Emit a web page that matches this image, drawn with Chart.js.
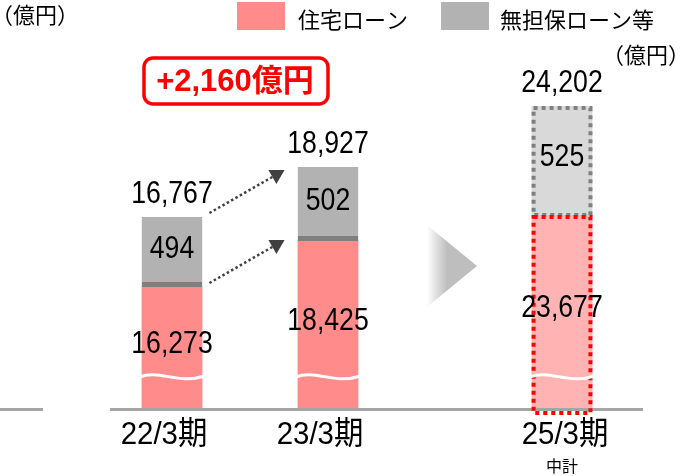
<!DOCTYPE html>
<html>
<head>
<meta charset="utf-8">
<script src="https://cdn.jsdelivr.net/npm/chart.js@4"></script>
<style>
  html, body { margin: 0; padding: 0; background: #fff; }
  #wrap { width: 680px; height: 476px; position: relative; }
</style>
</head>
<body>
<div id="wrap"><canvas id="myChart" width="680" height="476"></canvas></div>
<script>
// tick labels (blank slots keep the gap before the plan year)
const xLabels = ['22/3期', '', '23/3期', '', '', '25/3期']
const subLabels = ['', '', '', '', '', '中計']

// values (億円)
const housingLoan = [16273, null, 18425, null, null, 23677]
const unsecuredLoan = [494, null, 502, null, null, 525]
const totals = [16767, null, 18927, null, null, 24202]

// lengths on the broken (wavy) axis, as drawn in the source
const housingDrawn = [121, null, 167, null, null, 193]
const unsecuredDrawn = [70, null, 74, null, null, 109]

const legendNames = ['住宅ローン', '無担保ローン等']
const growthLabel = '+2,160億円'
const unitLabel = '（億円）'

const PINK = '#FF8B8B'
const PINK_PLAN = '#FFB3B3'
const GREY = '#B2B2B2'
const GREY_PLAN = '#D9D9D9'
const planIndex = 5

const NUM_FONT = '"Liberation Sans", "Noto Sans CJK JP", sans-serif'
const JP_FONT = '"Noto Sans CJK JP", sans-serif'

function fmt(v) {
  return v.toLocaleString('en-US')
}

function squeezeText(ctx, text, x, y, font, color, sx) {
  ctx.save()
  ctx.font = font
  ctx.fillStyle = color
  ctx.textAlign = 'center'
  ctx.textBaseline = 'middle'
  ctx.translate(x, y)
  ctx.scale(sx, 1)
  ctx.fillText(text, 0, 0)
  ctx.restore()
}

function dottedArrow(ctx, x1, y1, x2, y2) {
  const ang = Math.atan2(y2 - y1, x2 - x1)
  const head = 14
  const bx = x2 - Math.cos(ang) * head
  const by = y2 - Math.sin(ang) * head
  ctx.save()
  ctx.strokeStyle = '#404040'
  ctx.lineWidth = 2.5
  ctx.setLineDash([2.5, 2.5])
  ctx.beginPath()
  ctx.moveTo(x1, y1)
  ctx.lineTo(bx, by)
  ctx.stroke()
  ctx.setLineDash([])
  ctx.fillStyle = '#404040'
  ctx.beginPath()
  ctx.moveTo(x2, y2)
  ctx.lineTo(bx + Math.sin(ang) * 8, by - Math.cos(ang) * 8)
  ctx.lineTo(bx - Math.sin(ang) * 8, by + Math.cos(ang) * 8)
  ctx.closePath()
  ctx.fill()
  ctx.restore()
}

const decorations = {
  id: 'decorations',
  beforeDatasetsDraw(chart) {
    const ctx = chart.ctx
    const area = chart.chartArea
    // baselines
    ctx.save()
    ctx.strokeStyle = '#A6A6A6'
    ctx.lineWidth = 3
    ctx.beginPath()
    ctx.moveTo(110, area.bottom + 1.5)
    ctx.lineTo(643, area.bottom + 1.5)
    ctx.moveTo(0, area.bottom + 1.5)
    ctx.lineTo(43, area.bottom + 1.5)
    ctx.stroke()
    ctx.restore()
  },
  afterDatasetsDraw(chart) {
    const ctx = chart.ctx
    const area = chart.chartArea
    const x = chart.scales.x
    const pinkMeta = chart.getDatasetMeta(0)
    const greyMeta = chart.getDatasetMeta(1)

    // dotted frames for the plan bar
    const pb = pinkMeta.data[planIndex]
    const gb = greyMeta.data[planIndex]
    ctx.save()
    ctx.lineWidth = 4
    ctx.setLineDash([4, 4])
    ctx.strokeStyle = '#808080'
    ctx.strokeRect(gb.x - gb.width / 2 + 2, gb.y + 2, gb.width - 4, gb.base - gb.y - 2)
    ctx.strokeStyle = '#FF0000'
    ctx.strokeRect(pb.x - pb.width / 2 + 2, pb.y + 2, pb.width - 4, pb.base - pb.y + 3)
    ctx.restore()

    xLabels.forEach((lab, i) => {
      if (housingLoan[i] == null) return
      const p = pinkMeta.data[i]
      const g = greyMeta.data[i]
      const left = p.x - p.width / 2
      const w = p.width
      // wavy break mark
      const wy = p.base - 31
      ctx.save()
      ctx.strokeStyle = '#FFFFFF'
      ctx.lineWidth = 3
      ctx.beginPath()
      ctx.moveTo(left - 2, wy)
      ctx.bezierCurveTo(left + w * 0.3, wy - 8, left + w * 0.6, wy + 8, left + w + 2, wy - 1)
      ctx.stroke()
      ctx.restore()

      squeezeText(ctx, fmt(housingLoan[i]), p.x, (p.y + p.base) / 2 - 3, '31px ' + NUM_FONT, '#000', 0.86)
      squeezeText(ctx, fmt(unsecuredLoan[i]), g.x, (g.y + g.base) / 2 - 3, '31px ' + NUM_FONT, '#000', 0.86)
      squeezeText(ctx, fmt(totals[i]), g.x, g.y - 23, '31px ' + NUM_FONT, '#000', 0.86)

      const cx = x.getPixelForValue(i) + (i === planIndex ? 3 : -8)
      squeezeText(ctx, lab, cx, area.bottom + 27, '32px ' + NUM_FONT, '#000', 0.92)
      if (subLabels[i]) {
        squeezeText(ctx, subLabels[i], x.getPixelForValue(i), area.bottom + 58, '16px ' + JP_FONT, '#000', 1)
      }
    })

    // growth arrows 22/3 -> 23/3
    const g0 = greyMeta.data[0], g1 = greyMeta.data[2]
    const p0 = pinkMeta.data[0], p1 = pinkMeta.data[2]
    dottedArrow(ctx, g0.x + g0.width / 2 + 7, g0.y - 4, g1.x - g1.width / 2 - 13, g1.y + 3)
    dottedArrow(ctx, p0.x + p0.width / 2 + 7, p0.y - 4, p1.x - p1.width / 2 - 13, p1.y - 1)

    // big grey "next" triangle
    const tx = (x.getPixelForValue(3) + x.getPixelForValue(4)) / 2 - 18
    const ty = 266
    ctx.save()
    const grad = ctx.createLinearGradient(tx, 0, tx + 20, 0)
    grad.addColorStop(0, 'rgba(255,255,255,1)')
    grad.addColorStop(1, '#BEBEBE')
    ctx.fillStyle = grad
    ctx.beginPath()
    ctx.moveTo(tx, ty - 41)
    ctx.lineTo(tx + 50, ty)
    ctx.lineTo(tx, ty + 41)
    ctx.closePath()
    ctx.fill()
    ctx.restore()

    // growth callout box
    ctx.save()
    ctx.strokeStyle = '#FF0000'
    ctx.lineWidth = 3.5
    ctx.beginPath()
    ctx.roundRect(144, 58, 184, 46, 9)
    ctx.stroke()
    ctx.fillStyle = '#FF0000'
    ctx.font = 'bold 31px ' + NUM_FONT
    ctx.textAlign = 'center'
    ctx.textBaseline = 'middle'
    ctx.fillText(growthLabel, 235, 82)
    ctx.restore()

    // unit labels
    ctx.save()
    ctx.fillStyle = '#000'
    ctx.font = '22px ' + JP_FONT
    ctx.textBaseline = 'middle'
    ctx.textAlign = 'left'
    ctx.fillText(unitLabel, -9, 15)
    ctx.textAlign = 'right'
    ctx.fillText(unitLabel, 690, 55)
    ctx.restore()

    // legend
    const items = [
      { name: legendNames[0], color: PINK, bx: 237, tx: 298 },
      { name: legendNames[1], color: GREY, bx: 441, tx: 500 }
    ]
    ctx.save()
    ctx.font = '22px ' + JP_FONT
    ctx.textBaseline = 'middle'
    ctx.textAlign = 'left'
    items.forEach(it => {
      ctx.fillStyle = it.color
      ctx.fillRect(it.bx, 2, 48, 28)
      ctx.fillStyle = '#000'
      ctx.fillText(it.name, it.tx, 20)
    })
    ctx.restore()
  }
}

const data = {
  labels: xLabels,
  datasets: [
    {
      label: legendNames[0],
      data: housingDrawn,
      backgroundColor: housingDrawn.map((v, i) => i === planIndex ? PINK_PLAN : PINK),
      borderWidth: 0
    },
    {
      label: legendNames[1],
      data: unsecuredDrawn,
      backgroundColor: unsecuredDrawn.map((v, i) => i === planIndex ? GREY_PLAN : GREY),
      borderColor: '#7F7F7F',
      borderWidth: (c) => c.dataIndex === planIndex ? 0 : { top: 0, left: 0, right: 0, bottom: 5 },
      borderSkipped: false
    }
  ]
}

const config = {
  type: 'bar',
  data: data,
  options: {
    responsive: false,
    animation: false,
    events: [],
    categoryPercentage: 0.78,
    barPercentage: 1,
    layout: { padding: { left: 133, right: 79, top: 8, bottom: 68 } },
    plugins: { legend: { display: false }, tooltip: { enabled: false } },
    scales: {
      x: { stacked: true, display: false },
      y: { stacked: true, display: false, min: 0, max: 400 }
    }
  },
  plugins: [decorations]
}

const myChart = new Chart(document.getElementById('myChart'), config)
</script>
</body>
</html>
